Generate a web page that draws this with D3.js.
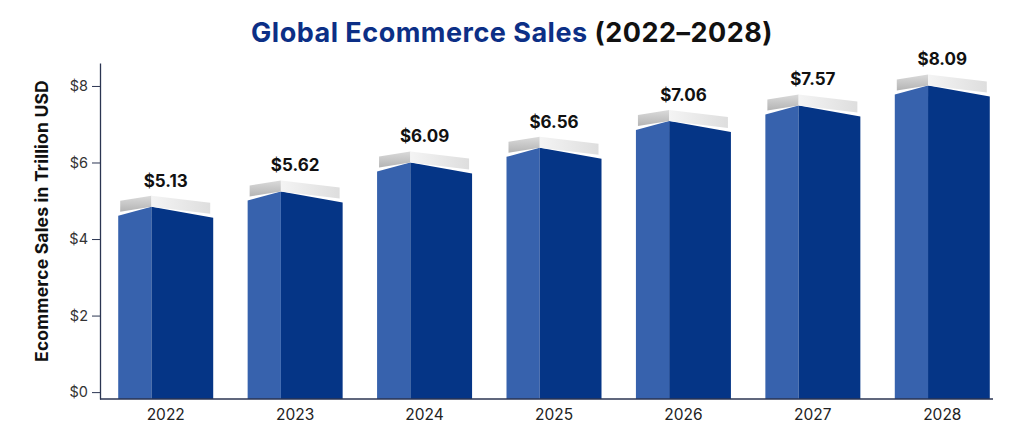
<!DOCTYPE html>
<html>
<head>
<meta charset="utf-8">
<script src="https://cdn.jsdelivr.net/npm/d3@7"></script>
<style>
  body { margin: 0; background: #fff; }
  svg { display: block; font-family: "Inter", "Open Sans", sans-serif; }
</style>
</head>
<body>
<svg id="chart" width="1024" height="439"></svg>
<script>
// chart data
const years = ["2022", "2023", "2024", "2025", "2026", "2027", "2028"];
const sales = [5.13, 5.62, 6.09, 6.56, 7.06, 7.57, 8.09];
// height of each bar's grey cap as drawn in the picture (read against the axis)
const capLevels = [5.13, 5.53, 6.29, 6.67, 7.37, 7.78, 8.30];
const yTicks = [0, 2, 4, 6, 8];

const width = 1024, height = 439;
const svg = d3.select("#chart");

const x = d3.scaleBand()
  .domain(years)
  .range([101, 1007])
  .paddingInner(0.266)
  .paddingOuter(0.133);

const y = d3.scaleLinear()
  .domain([-0.18, 8.6])
  .range([399, 63]);

const defs = svg.append("defs");
const gLeft = defs.append("linearGradient").attr("id", "capLeft").attr("x1", 0).attr("y1", 0).attr("x2", 0).attr("y2", 1);
gLeft.append("stop").attr("offset", "0%").attr("stop-color", "#dadada");
gLeft.append("stop").attr("offset", "100%").attr("stop-color", "#b4b4b4");
const gRight = defs.append("linearGradient").attr("id", "capRight").attr("x1", 0).attr("y1", 0).attr("x2", 1).attr("y2", 0);
gRight.append("stop").attr("offset", "0%").attr("stop-color", "#f4f4f4");
gRight.append("stop").attr("offset", "100%").attr("stop-color", "#dedede");

// title
const title = svg.append("text")
  .attr("x", width / 2)
  .attr("y", 42)
  .attr("text-anchor", "middle")
  .attr("font-size", 27)
  .attr("font-weight", 700)
  .attr("letter-spacing", 0.5);
title.append("tspan").attr("fill", "#0c2f86").text("Global Ecommerce Sales ");
title.append("tspan").attr("fill", "#111").text("(2022–2028)");

// y axis title
svg.append("text")
  .attr("transform", "translate(48,221) rotate(-90)")
  .attr("text-anchor", "middle")
  .attr("font-size", 17.5)
  .attr("font-weight", 700)
  .attr("letter-spacing", 0.2)
  .attr("fill", "#111")
  .text("Ecommerce Sales in Trillion USD");

// bars
const bars = svg.append("g").selectAll("g")
  .data(years.map((yr, i) => ({ yr, label: sales[i], cap: capLevels[i] })))
  .join("g");

const base = y(y.domain()[0]);

bars.each(function (d) {
  const g = d3.select(this);
  const x0 = x(d.yr), w = x.bandwidth(), x1 = x0 + w;
  const xs = x0 + w * 0.35;
  const P = y(d.cap);

  g.append("polygon")
    .attr("points", [[x0, P + 20], [xs, P + 11], [xs, base], [x0, base]].join(" "))
    .attr("fill", "#3762ad");
  g.append("polygon")
    .attr("points", [[xs, P + 11], [x1, P + 22], [x1, base], [xs, base]].join(" "))
    .attr("fill", "#053586");
  g.append("polygon")
    .attr("points", [[x0 + 2, P + 5], [xs, P], [xs, P + 11], [x0 + 2, P + 16]].join(" "))
    .attr("fill", "url(#capLeft)");
  g.append("polygon")
    .attr("points", [[xs, P], [x1 - 3, P + 7], [x1 - 3, P + 18], [xs, P + 11]].join(" "))
    .attr("fill", "url(#capRight)");

  g.append("text")
    .attr("x", x0 + w / 2)
    .attr("y", P - 9)
    .attr("text-anchor", "middle")
    .attr("font-size", 17)
    .attr("font-weight", 700)
    .attr("fill", "#111")
    .text("$" + d3.format(".2f")(d.label));
});

// y axis
const yAxis = svg.append("g")
  .attr("transform", "translate(100,0)")
  .call(d3.axisLeft(y).tickValues(yTicks).tickSize(8).tickSizeOuter(0).tickPadding(4).tickFormat(d => "$" + d));
yAxis.select(".domain").attr("stroke", "#2b3552").attr("stroke-width", 1.3);
yAxis.selectAll(".tick line").attr("stroke", "#2b3552");
yAxis.selectAll(".tick text")
  .attr("font-size", 14.5)
  .attr("fill", "#333")
  .attr("font-family", "Inter, sans-serif");

// x axis
const xAxis = svg.append("g")
  .attr("transform", `translate(0,${base})`)
  .call(d3.axisBottom(x).tickSize(0).tickPadding(10));
xAxis.select(".domain").attr("d", "M100,0H993").attr("stroke", "#2b3552").attr("stroke-width", 1.3);
xAxis.selectAll(".tick text")
  .attr("font-size", 15.5)
  .attr("fill", "#222")
  .attr("font-family", "Inter, sans-serif");
</script>
</body>
</html>
